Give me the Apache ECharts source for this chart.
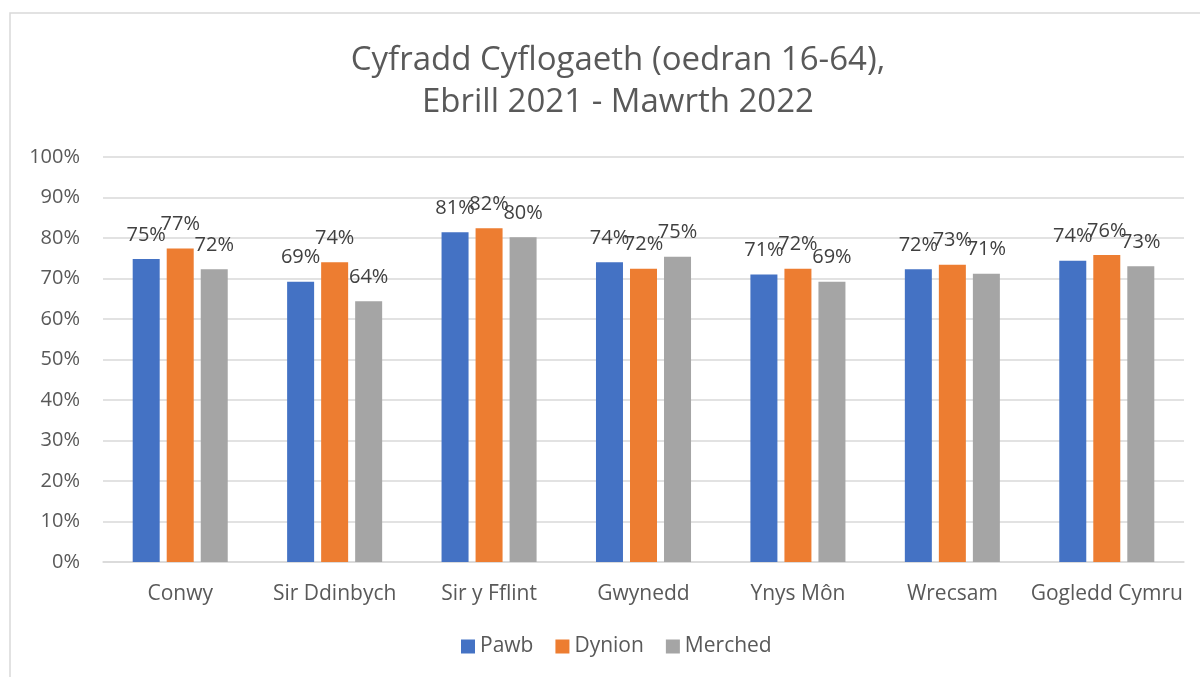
<!DOCTYPE html>
<html>
<head>
<meta charset="utf-8">
<script src="https://cdn.jsdelivr.net/npm/echarts@6/dist/echarts.min.js"></script>
<style>
  html, body { margin: 0; padding: 0; background: #fff; }
  #chart { width: 1200px; height: 677px; }
</style>
</head>
<body>
<div id="chart"></div>
<script>
const categories = ['Conwy', 'Sir Ddinbych', 'Sir y Fflint', 'Gwynedd', 'Ynys Môn', 'Wrecsam', 'Gogledd Cymru'];
const pawb = [74.8, 69.2, 81.4, 74.0, 71.0, 72.3, 74.4];
const dynion = [77.4, 74.0, 82.4, 72.4, 72.4, 73.4, 75.8];
const merched = [72.3, 64.4, 80.2, 75.4, 69.2, 71.2, 73.0];
const yTicks = [0, 10, 20, 30, 40, 50, 60, 70, 80, 90, 100];

const FONT = 'Open Sans';
const chart = echarts.init(document.getElementById('chart'));

const label = {
  show: true,
  position: 'top',
  distance: 14,
  color: '#404040',
  fontSize: 20,
  fontFamily: FONT,
  formatter: p => Math.round(p.value) + '%'
};

function bar(name, data, color) {
  return {
    name: name,
    type: 'bar',
    data: data,
    barWidth: 27,
    barGap: '26%',
    itemStyle: { color: color },
    label: label
  };
}

chart.setOption({
  animation: false,
  title: {
    text: 'Cyfradd Cyflogaeth (oedran 16-64),\nEbrill 2021 - Mawrth 2022',
    left: 613,
    textAlign: 'center',
    top: 35,
    textStyle: {
      color: '#595959',
      fontSize: 33,
      fontWeight: 'normal',
      fontFamily: FONT,
      lineHeight: 42
    }
  },
  legend: {
    bottom: 15,
    left: 456,
    itemWidth: 14,
    itemHeight: 14,
    itemGap: 22,
    icon: 'rect',
    textStyle: { color: '#595959', fontSize: 21, fontFamily: FONT }
  },
  grid: { left: 103, right: 16, top: 157, bottom: 115, containLabel: false },
  xAxis: {
    type: 'category',
    data: categories,
    axisLine: { lineStyle: { color: '#d9d9d9', width: 1.5 } },
    axisTick: { show: false },
    axisLabel: { interval: 0, color: '#595959', fontSize: 21, fontFamily: FONT, margin: 22 }
  },
  yAxis: {
    type: 'value',
    min: yTicks[0],
    max: yTicks[yTicks.length - 1],
    interval: 10,
    axisLine: { show: false },
    axisTick: { show: false },
    splitLine: { lineStyle: { color: '#d9d9d9', width: 1.5 } },
    axisLabel: { color: '#595959', fontSize: 20, fontFamily: FONT, margin: 23, formatter: '{value}%' }
  },
  graphic: [{
    type: 'rect',
    shape: { x: 10, y: 13, width: 1300, height: 800 },
    style: { fill: 'none', stroke: '#d9d9d9', lineWidth: 1.5 },
    silent: true
  }],
  series: [
    bar('Pawb', pawb, '#4472c4'),
    bar('Dynion', dynion, '#ed7d31'),
    bar('Merched', merched, '#a5a5a5')
  ]
});
</script>
</body>
</html>
